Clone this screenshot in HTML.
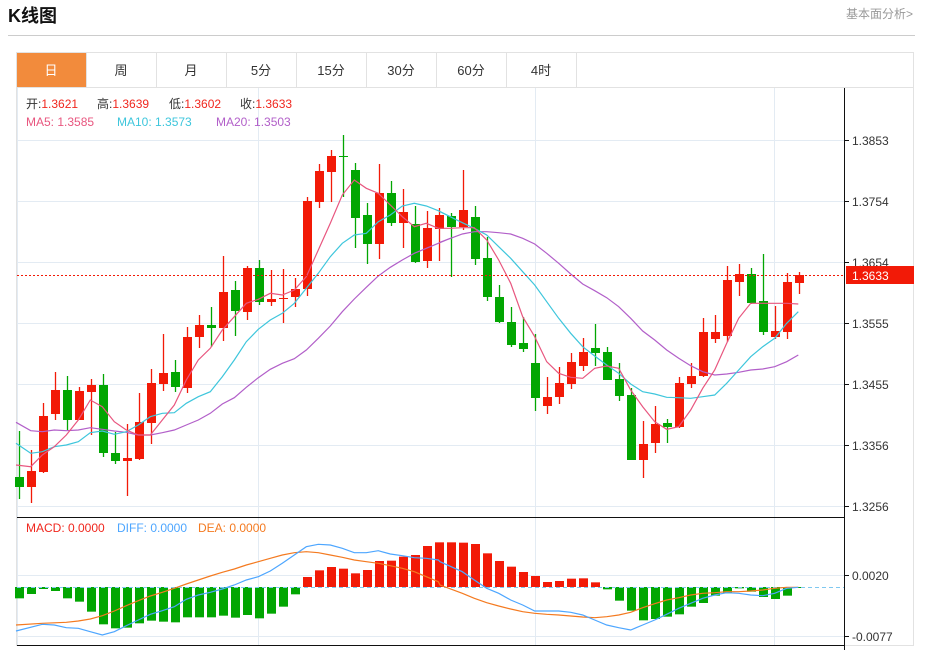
<!DOCTYPE html>
<html><head><meta charset="utf-8"><style>
body{margin:0;background:#fff;width:931px;height:650px;overflow:hidden;font-family:"Liberation Sans","Noto Sans CJK SC",sans-serif}
svg{position:absolute;left:0;top:0}
</style></head><body>
<svg id="s" width="931" height="650" xmlns="http://www.w3.org/2000/svg" font-family="Liberation Sans, Noto Sans CJK SC, sans-serif">
<text x="8" y="22" font-size="18" font-weight="bold" fill="#111">K线图</text>
<text x="913" y="18" font-size="12" fill="#999" text-anchor="end">基本面分析&gt;</text>
<line x1="8" y1="35.5" x2="915" y2="35.5" stroke="#ccc"/>
<rect x="16.5" y="52.5" width="897" height="593" fill="none" stroke="#e2e2e2"/>
<line x1="16" y1="87.5" x2="914" y2="87.5" stroke="#e2e2e2"/>
<rect x="17" y="53" width="69" height="34" fill="#f28b3c"/>
<g font-size="13" fill="#333" text-anchor="middle">
<text x="51" y="75" fill="#fff">日</text><text x="121" y="75">周</text><text x="191" y="75">月</text><text x="261" y="75">5分</text><text x="331" y="75">15分</text><text x="401" y="75">30分</text><text x="471" y="75">60分</text><text x="541" y="75">4时</text>
</g>
<g stroke="#e2e2e2"><line x1="86.5" y1="53" x2="86.5" y2="87"/><line x1="156.5" y1="53" x2="156.5" y2="87"/><line x1="226.5" y1="53" x2="226.5" y2="87"/><line x1="296.5" y1="53" x2="296.5" y2="87"/><line x1="366.5" y1="53" x2="366.5" y2="87"/><line x1="436.5" y1="53" x2="436.5" y2="87"/><line x1="506.5" y1="53" x2="506.5" y2="87"/><line x1="576.5" y1="53" x2="576.5" y2="87"/></g>
<g id="g"></g>
<g font-size="12">
<text x="26" y="108" fill="#333">开:<tspan fill="#f0271e">1.3621</tspan></text>
<text x="97" y="108" fill="#333">高:<tspan fill="#f0271e">1.3639</tspan></text>
<text x="169" y="108" fill="#333">低:<tspan fill="#f0271e">1.3602</tspan></text>
<text x="240" y="108" fill="#333">收:<tspan fill="#f0271e">1.3633</tspan></text>
<text x="26" y="126" fill="#e8567f">MA5: 1.3585</text>
<text x="117" y="126" fill="#3ec6dc">MA10: 1.3573</text>
<text x="216" y="126" fill="#b25fc9">MA20: 1.3503</text>
<text x="26" y="532" fill="#f0271e">MACD: 0.0000</text>
<text x="117" y="532" fill="#4da6ff">DIFF: 0.0000</text>
<text x="198" y="532" fill="#f47a20">DEA: 0.0000</text>
</g>
</svg>
<script>
var g=document.getElementById('g'),h='';
function L(a,b,c,d,col,ex){h+='<line x1="'+a+'" y1="'+b+'" x2="'+c+'" y2="'+d+'" stroke="'+col+'" '+(ex||'')+'/>';}
[140,201,262,323,384,445,506].forEach(function(y){L(17,y+.5,844,y+.5,'#e3ebf3');});
[575,636].forEach(function(y){L(17,y+.5,844,y+.5,'#e3ebf3');});
[17.5,258.5,535.5,774.5].forEach(function(x){L(x,88,x,646,'#e3ebf3');});
L(17,517.5,844,517.5,'#111');L(17,645.5,844,645.5,'#111');L(844.5,88,844.5,650,'#111');
var yl=[[140,'1.3853'],[201,'1.3754'],[262,'1.3654'],[323,'1.3555'],[384,'1.3455'],[445,'1.3356'],[506,'1.3256'],[575,'0.0020'],[636,'-0.0077']];
yl.forEach(function(t){L(844,t[0]+.5,849,t[0]+.5,'#111');h+='<text x="852" y="'+(t[0]+5)+'" font-size="12" fill="#333">'+t[1]+'</text>';});
var C=[[0,477,487,431,499],[1,471,487,450,503],[1,416,472,403,473],[1,390,414,372,420],[0,390,420,376,430],[1,391,420,387,420],[1,385,392,379,435],[0,385,453,374,457],[0,453,461,432,464],[1,458,461,424,496],[1,422,459,393,460],[1,383,423,369,444],[1,373,384,334,391],[0,372,387,360,392],[1,337,388,327,393],[1,325,337,315,348],[0,325,328,307,347],[1,292,328,256,341],[0,290,311,281,336],[1,268,312,266,320],[0,268,302,260,305],[1,299,302,270,306],[1,298,299,269,323],[1,289,297,278,307],[1,201,289,197,296],[1,171,202,164,208],[1,156,172,150,202],[0,156,157,135,197],[0,170,218,163,248],[0,215,244,203,264],[1,193,244,164,259],[0,193,223,181,226],[1,212,223,189,248],[0,224,262,206,263],[1,228,261,211,268],[1,215,229,208,261],[0,216,227,213,277],[1,210,227,170,230],[0,217,259,206,265],[0,258,297,237,301],[0,297,322,285,323],[0,322,345,307,347],[0,343,349,317,352],[0,363,398,334,411],[1,397,406,377,414],[1,383,397,367,404],[1,362,384,353,389],[1,352,366,338,371],[0,348,353,324,366],[0,352,380,347,380],[0,379,396,363,401],[0,395,460,388,460],[1,444,460,421,478],[1,424,443,406,453],[0,423,427,419,443],[1,383,427,377,428],[1,376,384,363,388],[1,332,376,318,377],[1,332,339,315,343],[1,280,336,266,342],[1,274,282,264,296],[0,274,303,268,304],[0,301,332,254,335],[1,331,337,306,339],[1,282,332,273,339],[1,275,283,272,294]];
function X(i){return 19.5+12*i;}
var M=[280,267,252,258,280,290,320,358,370,368,355,347,350,352,337,337,337,332,338,330,340,326,305,268,216,196,186,191,205,195,168,167,155,150,123,112,112,113,117,145,168,185,201,213,231,228,221,220,232,253,287,317,346,342,335,328,305,294,272,265,250,260,276,282,272,248];
M.forEach(function(v,i){var y=505+v/3,z=587,x=X(i)-4.5;var t=Math.min(y,z),hh=Math.max(Math.abs(y-z),1);h+='<rect x="'+x+'" y="'+t+'" width="9" height="'+hh+'" fill="'+(y<z?'#f21a07':'#02a602')+'"/>';});
L(17,587.5,844,587.5,'#7fc8f0','stroke-dasharray="4,3"');
C.forEach(function(c,i){var col=c[0]?'#f21a07':'#02a602',x=X(i);L(x,c[3],x,c[4],col,'stroke-width="1.3"');h+='<rect x="'+(x-4.5)+'" y="'+c[1]+'" width="9" height="'+Math.max(c[2]-c[1],1)+'" fill="'+col+'"/>';});
function P(a,b,col){var p=[];a.forEach(function(q){p.push((q[0]/3).toFixed(1)+','+(130+q[1]/3).toFixed(1));});b.forEach(function(q){p.push((440+q[0]/3).toFixed(1)+','+(130+q[1]/3).toFixed(1));});h+='<polyline points="'+p.join(' ')+'" fill="none" stroke="'+col+'" stroke-width="1.2"/>';}
function PM(a,b,col){var p=[];a.forEach(function(q){p.push((q[0]/3).toFixed(1)+','+(505+q[1]/3).toFixed(1));});b.forEach(function(q){p.push((440+q[0]/3).toFixed(1)+','+(505+q[1]/3).toFixed(1));});h+='<polyline points="'+p.join(' ')+'" fill="none" stroke="'+col+'" stroke-width="1.2"/>';}
P([[48,877],[92,902],[127,905],[163,900],[199,902],[235,900],[271,893],[307,898],[343,903],[379,907],[415,915],[451,915],[487,908],[523,900],[559,885],[595,870],[631,850],[667,822],[703,803],[739,772],[775,743],[811,718],[847,700],[883,686],[919,660],[955,625],[991,588],[1027,545],[1063,507],[1099,472],[1135,438],[1171,412],[1207,390],[1243,370],[1279,355],[1315,340],[1351,325]],[[0,337],[67,312],[103,305],[140,305],[176,308],[212,312],[248,325],[284,342],[320,370],[356,400],[392,432],[428,462],[464,482],[500,503],[536,530],[572,565],[608,603],[644,630],[680,660],[716,685],[752,707],[788,725],[824,735],[860,732],[896,727],[932,720],[968,717],[1004,710],[1040,695],[1075,675]],'#b25fc9');
P([[48,940],[92,970],[127,965],[163,950],[199,945],[235,935],[271,908],[307,903],[343,913],[379,905],[415,885],[451,860],[487,850],[523,848],[559,820],[595,800],[631,785],[667,740],[703,690],[739,635],[775,598],[811,570],[847,550],[883,520],[919,475],[955,430],[991,380],[1027,340],[1063,315],[1099,310],[1135,275],[1171,255],[1207,228],[1243,220],[1279,228],[1315,242],[1351,260]],[[0,245],[67,278],[103,295],[140,315],[176,350],[212,385],[248,425],[284,465],[320,515],[356,565],[392,610],[428,650],[464,678],[500,705],[536,730],[572,762],[608,785],[644,792],[680,802],[716,803],[752,805],[788,800],[824,795],[860,760],[896,720],[932,680],[968,650],[1004,625],[1040,580],[1075,545]],'#3ec6dc');
P([[48,1005],[92,1010],[127,975],[163,950],[199,915],[235,870],[271,810],[307,830],[343,875],[379,900],[415,915],[451,915],[487,870],[523,825],[559,750],[595,690],[631,655],[667,600],[703,560],[739,520],[775,508],[811,490],[847,495],[883,480],[919,440],[955,360],[991,280],[1027,195],[1063,150],[1099,175],[1135,190],[1171,225],[1207,260],[1243,290],[1279,280],[1315,295],[1351,295]],[[0,295],[30,295],[67,293],[103,293],[140,330],[176,390],[212,460],[248,560],[284,620],[320,695],[356,730],[392,742],[428,745],[464,715],[500,708],[536,715],[572,780],[608,830],[644,875],[680,898],[716,890],[752,840],[788,775],[824,720],[860,640],[896,565],[932,520],[968,520],[1004,520],[1040,520],[1075,522]],'#e8567f');
PM([[48,360],[127,355],[199,352],[235,348],[271,342],[307,332],[343,318],[379,302],[415,287],[451,273],[487,262],[523,250],[559,237],[595,225],[631,213],[667,202],[703,192],[739,180],[775,170],[811,160],[847,150],[883,143],[919,140],[955,143],[991,150],[1027,157],[1063,165],[1099,170],[1135,175],[1171,182],[1207,190],[1243,200],[1279,215],[1315,230]],[[0,240],[67,265],[103,280],[140,293],[176,303],[212,312],[248,320],[284,325],[320,328],[356,330],[392,333],[428,336],[464,338],[500,335],[536,330],[572,322],[608,308],[644,296],[680,285],[716,278],[752,270],[788,265],[824,263],[860,260],[896,260],[932,258],[968,255],[1004,250],[1040,247],[1075,247]],'#f47a20');
PM([[48,378],[127,358],[163,360],[199,368],[235,370],[271,380],[307,390],[343,380],[379,362],[415,345],[451,328],[487,317],[523,305],[559,283],[595,270],[631,262],[667,252],[703,240],[739,225],[775,215],[811,198],[847,175],[883,150],[919,125],[955,118],[991,120],[1027,130],[1063,143],[1099,143],[1135,137],[1171,147],[1207,152],[1243,158],[1279,160],[1315,165]],[[0,170],[67,200],[103,225],[140,250],[176,265],[212,285],[248,300],[284,318],[320,318],[356,318],[392,322],[428,330],[464,345],[500,360],[536,368],[572,375],[608,360],[644,345],[680,328],[716,310],[752,295],[788,280],[824,270],[860,263],[896,265],[932,270],[968,272],[1004,265],[1040,250],[1075,247]],'#4da6ff');
L(17,275.5,844,275.5,'#f21a07','stroke-dasharray="2,2"');
h+='<rect x="846" y="266" width="68" height="18" fill="#f21a07"/><text x="852" y="280" font-size="12" fill="#fff">1.3633</text>';
g.innerHTML=h;
</script>
</body></html>
